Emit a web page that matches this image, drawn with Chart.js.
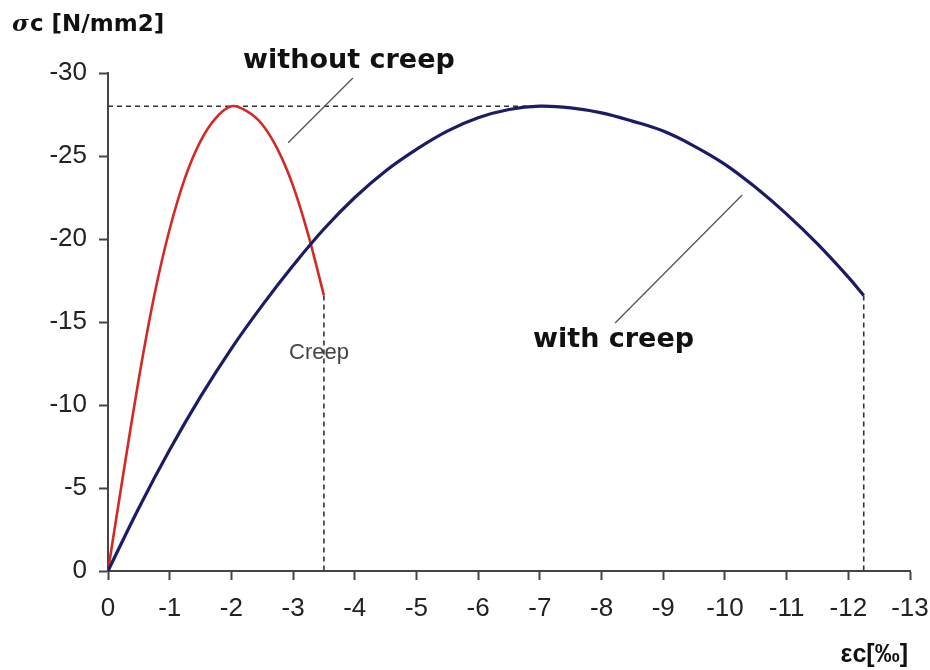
<!DOCTYPE html>
<html>
<head>
<meta charset="utf-8">
<script src="https://cdn.jsdelivr.net/npm/chart.js@4.4.0/dist/chart.umd.min.js"></script>
<style>
  html, body { margin: 0; padding: 0; background: #fff; }
</style>
</head>
<body>
<canvas id="myChart" width="930" height="670"></canvas>
<script>
// stress-strain of concrete, short-term load
const strainNoCreep = [0, -0.25, -0.5, -0.75, -1, -1.25, -1.5, -1.75, -2, -2.25, -2.5, -2.75, -3, -3.25, -3.5];
const stressNoCreep = [0, -5.9, -11.6, -16.6, -20.6, -23.7, -25.9, -27.3, -28, -27.7, -26.9, -25.4, -23.2, -20.2, -16.6];

// same concrete with creep
const strainCreep = [0, -0.5, -1, -1.5, -2, -2.5, -3, -3.5, -4, -4.5, -5, -5.5, -6, -6.5, -7,
  -7.5, -8, -8.5, -9, -9.5, -10, -10.5, -11, -11.5, -12, -12.25];
const stressCreep = [0, -3.8, -7.3, -10.5, -13.4, -16.0, -18.4, -20.6, -22.5, -24.1, -25.4, -26.5, -27.3, -27.8, -28,
  -27.9, -27.6, -27.1, -26.5, -25.6, -24.5, -23.1, -21.5, -19.7, -17.7, -16.6];

const xTicks = [0, -1, -2, -3, -4, -5, -6, -7, -8, -9, -10, -11, -12, -13];
const yTicks = [0, -5, -10, -15, -20, -25, -30];

const toPoints = (xs, ys) => xs.map((x, i) => ({ x: x, y: ys[i] }));

const peakOf = (xs, ys) => {
    let k = 0;
    ys.forEach((v, i) => { if (v < ys[k]) k = i; });
    return { x: xs[k], y: ys[k] };
};

const tickFont = { family: "'Liberation Sans', Arial", size: 26 };
const boldFont = "bold 27px 'DejaVu Sans', Verdana, sans-serif";

const guides = {
    id: 'guides',
    beforeDatasetsDraw(chart) {
        const { ctx, scales: { x, y } } = chart;
        const peak = peakOf(strainCreep, stressCreep);
        const endA = { x: strainNoCreep[strainNoCreep.length - 1], y: stressNoCreep[stressNoCreep.length - 1] };
        const endB = { x: strainCreep[strainCreep.length - 1], y: stressCreep[stressCreep.length - 1] };

        ctx.save();
        ctx.strokeStyle = '#333';
        ctx.lineWidth = 1.6;
        ctx.setLineDash([5, 4]);
        ctx.beginPath();
        ctx.moveTo(x.getPixelForValue(0), y.getPixelForValue(peak.y));
        ctx.lineTo(x.getPixelForValue(peak.x), y.getPixelForValue(peak.y));
        ctx.moveTo(x.getPixelForValue(endA.x), y.getPixelForValue(endA.y));
        ctx.lineTo(x.getPixelForValue(endA.x), y.getPixelForValue(0));
        ctx.moveTo(x.getPixelForValue(endB.x), y.getPixelForValue(endB.y));
        ctx.lineTo(x.getPixelForValue(endB.x), y.getPixelForValue(0));
        ctx.stroke();

        // leader lines to the curve labels
        ctx.setLineDash([]);
        ctx.strokeStyle = '#555';
        ctx.lineWidth = 1.3;
        ctx.beginPath();
        ctx.moveTo(x.getPixelForValue(-3.97), y.getPixelForValue(-29.7));
        ctx.lineTo(x.getPixelForValue(-2.92), y.getPixelForValue(-25.8));
        ctx.moveTo(x.getPixelForValue(-10.28), y.getPixelForValue(-22.65));
        ctx.lineTo(x.getPixelForValue(-8.22), y.getPixelForValue(-14.94));
        ctx.stroke();
        ctx.restore();
    },
    afterDraw(chart) {
        const { ctx, scales: { x, y } } = chart;
        ctx.save();
        ctx.fillStyle = '#111';
        ctx.textBaseline = 'alphabetic';
        ctx.textAlign = 'left';

        ctx.font = boldFont;
        ctx.fillText('without creep', x.getPixelForValue(-2.19), y.getPixelForValue(-30.3));
        ctx.fillText('with creep', x.getPixelForValue(-6.89), y.getPixelForValue(-13.5));

        ctx.font = "22px 'Liberation Sans', Arial, sans-serif";
        ctx.fillStyle = '#444';
        ctx.textAlign = 'center';
        ctx.fillText('Creep', x.getPixelForValue(-3.42), y.getPixelForValue(-12.8));

        // axis titles
        ctx.fillStyle = '#111';
        ctx.textAlign = 'left';
        ctx.font = "italic bold 23px 'DejaVu Serif', serif";
        ctx.fillText('σ', 12, 31);
        const w = ctx.measureText('σ').width;
        ctx.font = "bold 23px 'DejaVu Sans', Verdana, sans-serif";
        ctx.fillText('c [N/mm2]', 12 + w + 1, 31);

        ctx.font = "bold 25px 'Liberation Sans', Arial";
        ctx.textAlign = 'right';
        ctx.fillText('εc[‰]', 908, 662);
        ctx.restore();
    }
};

const ctx = document.getElementById('myChart');

const myChart = new Chart(ctx, {
    type: 'line',
    data: {
        datasets: [{
            label: 'with creep',
            data: toPoints(strainCreep, stressCreep),
            borderColor: '#1c1c66',
            borderWidth: 3.2,
            pointRadius: 0,
            tension: 0.4,
            fill: false
        }, {
            label: 'without creep',
            data: toPoints(strainNoCreep, stressNoCreep),
            borderColor: '#d42a24',
            borderWidth: 2.6,
            pointRadius: 0,
            tension: 0.3,
            fill: false
        }]
    },
    options: {
        responsive: false,
        animation: false,
        layout: { padding: { left: 0, right: 20, top: 73, bottom: 0 } },
        plugins: {
            legend: { display: false },
            tooltip: { enabled: false }
        },
        scales: {
            x: {
                type: 'linear',
                reverse: true,
                min: -13,
                max: 0,
                afterBuildTicks: (s) => { s.ticks = xTicks.map(v => ({ value: v })); },
                afterFit: (s) => { s.height = 99; s.paddingLeft = 0; s.paddingRight = 0; },
                grid: { drawOnChartArea: false, drawTicks: true, tickLength: 9, color: '#444', tickWidth: 2 },
                border: { display: true, color: '#444', width: 2 },
                ticks: { color: '#222', font: tickFont, padding: 13, maxRotation: 0 }
            },
            y: {
                type: 'linear',
                reverse: true,
                min: -30,
                max: 0,
                afterBuildTicks: (s) => { s.ticks = yTicks.map(v => ({ value: v })); },
                afterFit: (s) => { s.width = 108; },
                grid: { drawOnChartArea: false, drawTicks: true, tickLength: 9, color: '#444', tickWidth: 2 },
                border: { display: true, color: '#444', width: 2 },
                ticks: { color: '#222', font: tickFont, padding: 12 }
            }
        }
    },
    plugins: [guides]
});
</script>
</body>
</html>
